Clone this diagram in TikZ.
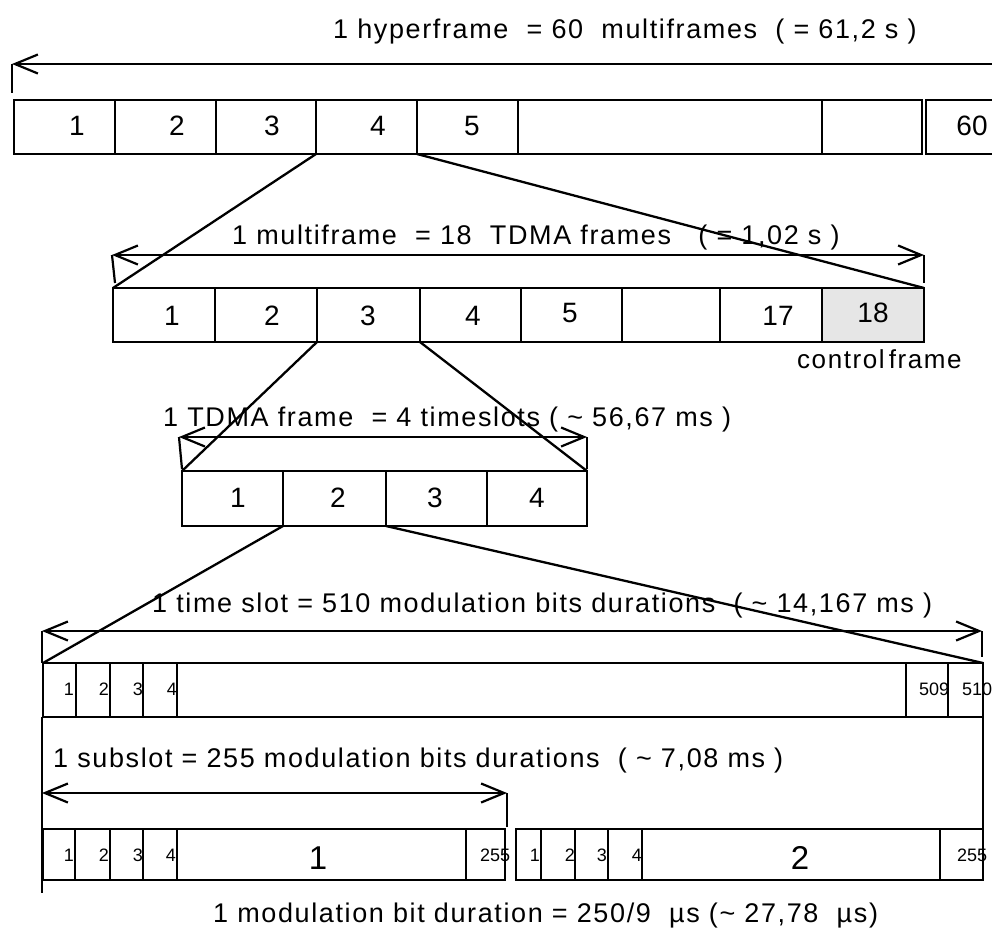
\documentclass[tikz,border=0pt]{standalone}
\usepackage{fontspec}
\setmainfont{Liberation Sans}
\newfontfamily\lblfont[LetterSpace=6]{Liberation Sans}
\usetikzlibrary{arrows.meta}
\tikzset{
  cellbox/.style={draw, line width=2.3pt, inner sep=0pt, outer sep=0pt},
  lbl/.style={font=\lblfont\fontsize{27}{27}\selectfont, inner sep=0pt, anchor=base west},
  cflbl/.style={font=\lblfont\fontsize{26}{26}\selectfont, inner sep=0pt, anchor=base west},
  num/.style={font=\fontsize{28}{28}\selectfont, inner sep=0pt, anchor=base},
  bignum/.style={font=\fontsize{33}{33}\selectfont, inner sep=0pt, anchor=base},
  smallnum/.style={font=\fontsize{18}{18}\selectfont, inner sep=0pt, anchor=base east},
  smallnumw/.style={font=\fontsize{18}{18}\selectfont, inner sep=0pt, anchor=base west},
  conn/.style={line width=2.3pt},
  tick/.style={line width=2.2pt},
  barb/.tip={Straight Barb[length=23pt,width=19pt,line width=2.2pt]},
  dimline/.style={line width=2.2pt},
}
\newcommand\mkcell[6][]{%
  \node[cellbox,#1,minimum width={(#4-#3)*1pt},minimum height={(#6-#5)*1pt}]
    (#2) at ({(#3+#4)/2},{(#5+#6)/2}) {};}
\begin{document}
\begin{tikzpicture}[x=1pt,y=-1pt]
\clip (0,0) rectangle (992,929);
\fill[white] (0,0) rectangle (992,929);

% ---------- hyperframe ----------
\node[lbl] (t1) at (333,38) {1 hyperframe \ = 60 \ multiframes \ ( = 61,2 s )};
\coordinate (a1l) at (12,64);
\coordinate (a1r) at (1000,64);
\coordinate (a1lt) at (12,93);
\draw[dimline,barb-] (a1l) -- (a1r);
\draw[tick] (a1l) -- (a1lt);
\mkcell{h1}{14}{115}{100}{154}
\mkcell{h2}{115}{216}{100}{154}
\mkcell{h3}{216}{316}{100}{154}
\mkcell{h4}{316}{417}{100}{154}
\mkcell{h5}{417}{518}{100}{154}
\mkcell{h6}{518}{822}{100}{154}
\mkcell{h7}{822}{922}{100}{154}
\mkcell{h60}{926}{1010}{100}{154}
\node[num] (h1t) at (77,135) {1};
\node[num] (h2t) at (177,135) {2};
\node[num] (h3t) at (272,135) {3};
\node[num] (h4t) at (378,135) {4};
\node[num] (h5t) at (472,135) {5};
\node[num] (h60t) at (972,135) {60};

% ---------- multiframe ----------
\node[lbl] (t2) at (232,244) {1 multiframe \ = 18 \ TDMA frames \ \ ( = 1,02 s )};
\coordinate (a2l) at (112,255);
\coordinate (a2r) at (924,255);
\coordinate (a2lt) at (115,283);
\coordinate (a2rt) at (924,283);
\draw[dimline,barb-barb] (a2l) -- (a2r);
\draw[tick] (a2l) -- (a2lt);
\draw[tick] (a2r) -- (a2rt);
\mkcell{m1}{113}{215}{288}{342}
\mkcell{m2}{215}{317}{288}{342}
\mkcell{m3}{317}{420}{288}{342}
\mkcell{m4}{420}{521}{288}{342}
\mkcell{m5}{521}{622}{288}{342}
\mkcell{m6}{622}{720}{288}{342}
\mkcell{m17}{720}{822}{288}{342}
\mkcell[fill={rgb,255:red,230;green,230;blue,230}]{m18}{822}{924}{288}{342}
\node[num] (m1t) at (172,325) {1};
\node[num] (m2t) at (272,325) {2};
\node[num] (m3t) at (368,325) {3};
\node[num] (m4t) at (473,325) {4};
\node[num] (m5t) at (570,322) {5};
\node[num] (m17t) at (778,325) {17};
\node[num] (m18t) at (873,322) {18};
\node[cflbl] (cf) at (797,368) {control\,frame};
\draw[conn] (h4.south west) -- (m1.north west);
\draw[conn] (h5.south west) -- (m18.north east);

% ---------- TDMA frame ----------
\node[lbl] (t3) at (163,426) {1 TDMA frame \ = 4 timeslots ( \char"007E{} 56,67 ms )};
\coordinate (a3l) at (179,437);
\coordinate (a3r) at (587,437);
\coordinate (a3lt) at (182,469);
\coordinate (a3rt) at (587,469);
\draw[dimline,barb-barb] (a3l) -- (a3r);
\draw[tick] (a3l) -- (a3lt);
\draw[tick] (a3r) -- (a3rt);
\mkcell{f1}{182}{283}{471}{526}
\mkcell{f2}{283}{386}{471}{526}
\mkcell{f3}{386}{487}{471}{526}
\mkcell{f4}{487}{587}{471}{526}
\node[num] (f1t) at (238,507) {1};
\node[num] (f2t) at (338,507) {2};
\node[num] (f3t) at (435,507) {3};
\node[num] (f4t) at (537,507) {4};
\draw[conn] (m3.south west) -- (f1.north west);
\draw[conn] (m4.south west) -- (f4.north east);

% ---------- time slot ----------
\node[lbl] (t4) at (152,612) {1 time slot = 510 modulation bits durations \ ( \char"007E{} 14,167 ms )};
\coordinate (a4l) at (42,631);
\coordinate (a4r) at (982,631);
\coordinate (a4lt) at (42,663);
\coordinate (a4rt) at (982,657);
\draw[dimline,barb-barb] (a4l) -- (a4r);
\draw[tick] (a4l) -- (a4lt);
\draw[tick] (a4r) -- (a4rt);
\mkcell{s1}{43}{76}{663}{717}
\mkcell{s2}{76}{110}{663}{717}
\mkcell{s3}{110}{143}{663}{717}
\mkcell{s4}{143}{177}{663}{717}
\mkcell{s5}{177}{906}{663}{717}
\mkcell{s509}{906}{948}{663}{717}
\mkcell{s510}{948}{983}{663}{717}
\node[smallnum] (s1t) at (74,695) {1};
\node[smallnum] (s2t) at (109,695) {2};
\node[smallnum] (s3t) at (143,695) {3};
\node[smallnum] (s4t) at (177,695) {4};
\node[smallnumw] (s509t) at (919,695) {509};
\node[smallnumw] (s510t) at (962,695) {510};
\draw[conn] (f2.south west) -- (s1.north west);
\draw[conn] (f3.south west) -- (s510.north east);

% ---------- subslots ----------
\coordinate (vl1) at (42,717);
\coordinate (vl2) at (42,893);
\coordinate (vr1) at (983,717);
\coordinate (vr2) at (983,829);
\draw[tick] (vl1) -- (vl2);
\draw[tick] (vr1) -- (vr2);
\node[lbl] (t5) at (53,767) {1 subslot = 255 modulation bits durations \ ( \char"007E{} 7,08 ms )};
\coordinate (a5l) at (42,793);
\coordinate (a5r) at (507,793);
\coordinate (a5rt) at (507,827);
\draw[dimline,barb-barb] (a5l) -- (a5r);
\draw[tick] (a5r) -- (a5rt);
\mkcell{p1}{43}{75}{829}{880}
\mkcell{p2}{75}{110}{829}{880}
\mkcell{p3}{110}{143}{829}{880}
\mkcell{p4}{143}{177}{829}{880}
\mkcell{p5}{177}{466}{829}{880}
\mkcell{p255}{466}{505}{829}{880}
\node[smallnum] (p1t) at (74,861) {1};
\node[smallnum] (p2t) at (109,861) {2};
\node[smallnum] (p3t) at (143,861) {3};
\node[smallnum] (p4t) at (176,861) {4};
\node[bignum] (p5t) at (318,869) {1};
\node[smallnumw] (p255t) at (480,861) {255};
\mkcell{q1}{516}{541}{829}{880}
\mkcell{q2}{541}{575}{829}{880}
\mkcell{q3}{575}{608}{829}{880}
\mkcell{q4}{608}{642}{829}{880}
\mkcell{q5}{642}{940}{829}{880}
\mkcell{q255}{940}{983}{829}{880}
\node[smallnum] (q1t) at (540,861) {1};
\node[smallnum] (q2t) at (575,861) {2};
\node[smallnum] (q3t) at (607,861) {3};
\node[smallnum] (q4t) at (642,861) {4};
\node[bignum] (q5t) at (800,869) {2};
\node[smallnumw] (q255t) at (957,861) {255};

\node[lbl] (t6) at (213,922) {1 modulation bit duration = 250/9 \ µs (\char"007E{} 27,78 \ µs)};
\end{tikzpicture}
\end{document}
